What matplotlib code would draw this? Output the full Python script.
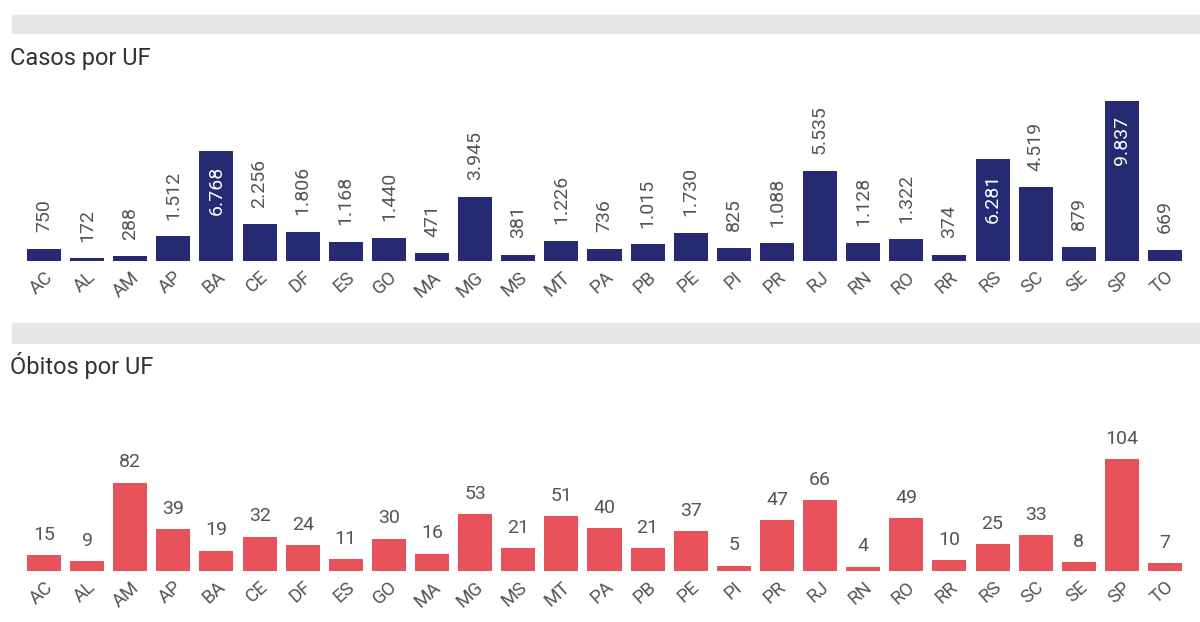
import matplotlib.pyplot as plt
from matplotlib.patches import Rectangle

plt.rcParams['font.family'] = ['Roboto', 'DejaVu Sans']

ufs = ["AC", "AL", "AM", "AP", "BA", "CE", "DF", "ES", "GO", "MA", "MG", "MS", "MT", "PA",
       "PB", "PE", "PI", "PR", "RJ", "RN", "RO", "RR", "RS", "SC", "SE", "SP", "TO"]
casos = [750, 172, 288, 1512, 6768, 2256, 1806, 1168, 1440, 471, 3945, 381, 1226, 736,
         1015, 1730, 825, 1088, 5535, 1128, 1322, 374, 6281, 4519, 879, 9837, 669]
obitos = [15, 9, 82, 39, 19, 32, 24, 11, 30, 16, 53, 21, 51, 40,
          21, 37, 5, 47, 66, 4, 49, 10, 25, 33, 8, 104, 7]
dentro = ["BA", "RS", "SP"]   # rótulos brancos dentro da barra

W, H = 1200, 622
fig = plt.figure(figsize=(W / 100, H / 100), dpi=100)

# faixas cinza
for y0, y1 in [(15, 33), (323, 343)]:
    fig.patches.append(Rectangle((12 / W, 1 - y1 / H), 1, (y1 - y0) / H,
                                 transform=fig.transFigure, color="#e6e6e6", zorder=0))

fig.text(10 / W, 1 - 65 / H, "Casos por UF", fontsize=17, color="#333333", va="baseline")
fig.text(10 / W, 1 - 374 / H, "Óbitos por UF", fontsize=17, color="#333333", va="baseline")


def fmt(v):
    return f"{v:,}".replace(",", ".")


step = (1165 - 44) / 26
left = 44 - 0.5 * step
width = 27 * step

# ---- casos ----
ax1 = fig.add_axes([left / W, 1 - 261 / H, width / W, 160 / H])
x = list(range(len(ufs)))
ax1.bar(x, casos, width=0.79, color="#252a72")
ax1.set_xlim(-0.5, 26.5)
ax1.set_ylim(0, max(casos))
for i, (uf, v) in enumerate(zip(ufs, casos)):
    if uf in dentro:
        ax1.annotate(fmt(v), (i, v), xytext=(0, -11), textcoords="offset points",
                     rotation=90, ha="center", va="top", fontsize=14, color="white")
    else:
        ax1.annotate(fmt(v), (i, v), xytext=(0, 12), textcoords="offset points",
                     rotation=90, ha="center", va="bottom", fontsize=14, color="#555555",
                     annotation_clip=False)

# ---- óbitos ----
ax2 = fig.add_axes([left / W, 1 - 571 / H, width / W, 112 / H])
ax2.bar(x, obitos, width=0.79, color="#e8525a")
ax2.set_xlim(-0.5, 26.5)
ax2.set_ylim(0, max(obitos))
for i, v in enumerate(obitos):
    ax2.annotate(str(v), (i, v), xytext=(0, 11), textcoords="offset points",
                 ha="center", va="baseline", fontsize=14, color="#555555",
                 annotation_clip=False)

for ax in (ax1, ax2):
    ax.set_xticks(x)
    ax.set_xticklabels(ufs, rotation=42, ha="right", rotation_mode="anchor",
                       fontsize=13.5, color="#555555")
    ax.tick_params(axis="x", length=0, pad=5)
    ax.set_yticks([])
    for s in ax.spines.values():
        s.set_visible(False)
    ax.patch.set_alpha(0)

fig.savefig("out.png", dpi=100)
